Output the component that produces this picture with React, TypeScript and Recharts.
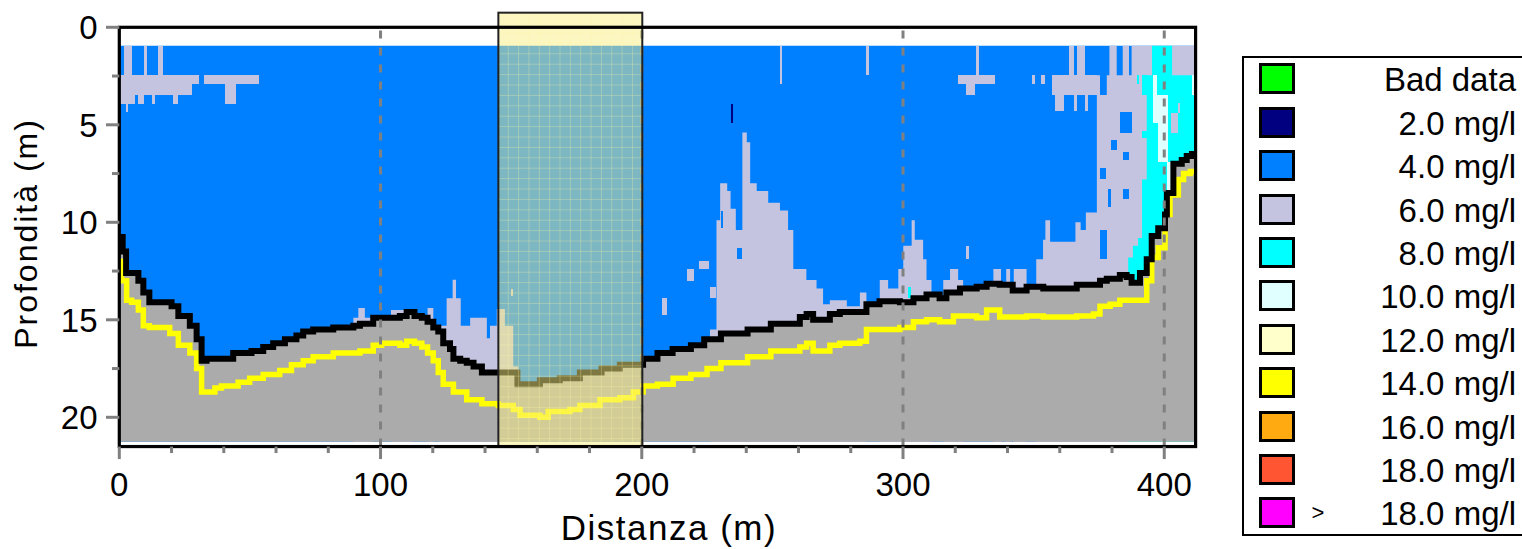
import React from "react";
import {
  ComposedChart,
  Area,
  Line,
  XAxis,
  YAxis,
  ReferenceArea,
  ReferenceLine,
} from "recharts";

const FONT = '"Liberation Sans", Arial, sans-serif';

// plot geometry (page px)
const PLOT_LEFT = 119.3;
const PLOT_TOP = 27.3;
const PLOT_RIGHT = 1195.6;
const PLOT_BOTTOM = 446.55;

const X_MAX = 412;
const Y_MAX = 21.5;
const SURFACE = 0.95;
const F = 21.25; // fondo dei dati

const xTicks = [0, 20, 40, 60, 80, 100, 120, 140, 160, 180, 200, 220, 240, 260, 280, 300, 320, 340, 360, 380, 400];
const yTicks = [0, 2.5, 5, 7.5, 10, 12.5, 15, 17.5, 20];
const xGridLines = [100, 200, 300, 400];

// fondale (linea nera) [distanza, profondità]
const blackLine: [number, number][] = [
  [0, 10.75], [1.3, 11.5], [2.6, 12.6], [7.3, 13.0], [9.2, 13.6], [11.5, 14.1], [20.0, 14.3],
  [22.6, 14.8], [27.0, 15.3], [29.6, 16.0], [31.5, 17.1], [33.4, 17.0], [43.6, 16.7], [50.6, 16.6],
  [55.1, 16.4], [58.9, 16.2], [63.4, 16.0], [67.8, 15.8], [70.4, 15.6], [74.2, 15.5], [81.9, 15.4],
  [89.6, 15.3], [92.1, 15.2], [97.2, 14.9], [107.4, 14.8], [110, 14.6], [113, 14.8], [115.8, 14.9],
  [118, 15.1], [120.2, 15.4], [122.1, 15.6], [124, 16.2], [126.6, 16.5], [127.9, 17.0], [130.5, 17.1],
  [133, 17.2], [135.6, 17.4], [138.8, 17.7], [152.4, 18.3], [161, 18.1], [168.6, 18.0], [176.3, 17.7],
  [184.6, 17.5], [191.6, 17.3], [200.5, 17.0], [206, 16.7], [211.8, 16.5], [218.8, 16.3], [223.9, 16.0],
  [230.3, 15.7], [240.5, 15.5], [249.4, 15.2], [260.5, 14.85], [263.1, 14.7], [265.6, 15.0], [272, 14.7],
  [275.8, 14.6], [286, 14.2], [291, 14.05], [298.8, 14.1], [304, 13.9], [309, 13.7], [314, 13.9],
  [316.6, 13.6], [321.8, 13.4], [328.2, 13.3], [332, 13.15], [337, 13.2], [342, 13.5], [347.3, 13.3],
  [353.7, 13.4], [366.5, 13.2], [375.4, 13.0], [378, 12.9], [383, 12.7], [385.6, 12.8], [387.5, 13.1],
  [390.7, 12.6], [393.3, 11.9], [395.2, 10.7], [397.7, 10.3], [400.3, 9.6], [401, 8.5], [403.5, 7.0],
  [406.7, 6.8], [408.6, 6.6], [410.6, 6.5], [412, 6.5],
];

// seconda riflessione (linea gialla)
const yellowLine: [number, number][] = [
  [0.5, 12.0], [0.9, 13.0], [2.8, 14.0], [4.7, 14.1], [7.3, 14.5], [9.2, 15.3], [11.5, 15.4],
  [19.3, 15.7], [22.6, 16.3], [27, 16.7], [29.6, 17.5], [31.5, 18.7], [36.6, 18.5], [39.1, 18.4],
  [45.5, 18.2], [49.9, 18.0], [55.1, 17.8], [61.4, 17.6], [65.9, 17.3], [70.4, 17.1], [74.2, 16.9],
  [81.9, 16.7], [92.1, 16.6], [97.2, 16.3], [100.4, 16.2], [107.4, 16.3], [110, 16.1], [113, 16.2],
  [115.8, 16.4], [118, 16.7], [120.2, 17.1], [122.1, 17.7], [124, 18.3], [127.9, 18.7], [133, 19.1],
  [138.8, 19.3], [145.1, 19.4], [150.8, 19.6], [153.4, 19.9], [161, 20.0], [164.2, 19.7], [172.5, 19.6],
  [176.3, 19.4], [184, 19.1], [191.6, 19.0], [196.8, 18.7], [200.5, 18.4], [206, 18.3], [212, 18.0],
  [218.8, 17.8], [225, 17.5], [230.3, 17.2], [240.5, 16.9], [249.4, 16.6], [260.5, 16.4], [263.1, 16.2],
  [265.6, 16.6], [272, 16.3], [275.8, 16.2], [283.5, 16.1], [286, 15.5], [298.8, 15.4], [304, 15.1],
  [309, 15.0], [314, 15.1], [319.3, 14.8], [328.2, 14.9], [332, 14.5], [337, 14.85], [347.3, 14.8],
  [353.7, 14.85], [366.5, 14.8], [372.9, 14.7], [375.4, 14.3], [379.3, 14.2], [383, 14.0], [393.3, 13.0],
  [395.2, 11.8], [397.7, 11.3], [400.3, 9.6], [402.2, 8.6], [405.4, 7.8], [407.4, 7.5], [410, 7.4], [412, 7.4],
];

// 6.0 mg/l, limite superiore delle zone che scendono fino al fondo
const lavenderTop: [number, number][] = [
  [0, F], [89.6, 14.9], [91.5, 14.4], [94, 14.9], [97.2, F], [104, 14.5], [112, F], [118, 14.4],
  [120.2, F], [122.5, 15.3], [125.3, 13.9], [127.6, 12.95], [128.9, 13.9], [130.7, 15.3], [134.3, 14.9],
  [140.7, 15.95], [141.9, 15.3], [144.5, 14.45], [147.6, 15.3], [150.8, 17.4], [152.7, F],
  [226.1, 15.5], [228.6, 9.9], [230, 8.0], [232.7, 8.4], [234, 9.3], [236, 10.4], [238.5, 5.4],
  [240.2, 5.9], [241.5, 8.0], [244, 8.4], [248.4, 9.0], [252.9, 9.4], [256, 10.4], [258, 12.4],
  [263, 12.96], [266.9, 13.4], [269.4, 14.2], [272, 14.0], [278.5, 14.3], [283.5, 13.6], [286, F],
  [291.1, 12.96], [294.3, 13.4], [298.2, 12.4], [300.1, 11.2], [303.3, 9.9], [304.5, 10.9], [307.7, 11.9],
  [309, 12.96], [310.9, F], [315.4, 12.96], [318, 12.4], [321.1, 12.96], [323, F], [334.6, 12.4],
  [337.5, F], [339.5, 12.4], [341, F], [342.4, 12.4], [347.3, F], [351, 11.9], [353.6, 10.9],
  [354.5, 9.9], [356.3, 11.0], [366, 10.0], [368, 10.4], [370, 9.5], [374.2, 2.46], [375.4, 3.47],
  [378, 2.46], [379, 0.95], [381.8, 2.46], [384.1, 0.95], [386.5, 2.46], [387.5, 0.95], [412, 0.95],
];

// 8.0 mg/l
const cyanTop: [number, number][] = [
  [0, F], [386.2, 11.8], [388, 11.2], [390, 10.8], [391.5, 7.8], [393.3, 2.46], [395.3, 0.95],
  [403, 2.46], [412, 2.46],
];

// celle isolate [x1, x2, prof1, prof2]
const lavenderCells: [number, number, number, number][] = [
  [0, 30.6, 2.46, 2.91], [0, 28, 2.91, 3.45], [1.8, 4.7, 0.95, 2.46], [9.5, 10.5, 0.95, 2.46],
  [14.9, 16.8, 0.95, 2.46], [32.4, 53.5, 2.46, 2.91], [40.5, 44.7, 2.91, 3.91], [0, 6.0, 3.45, 3.91],
  [7.3, 9.5, 3.45, 3.91], [12.4, 13.7, 3.45, 3.91], [20.4, 22.3, 3.45, 3.91], [2.6, 3.5, 3.91, 4.35],
  [150, 150.8, 13.4, 13.8], [207.6, 209.8, 13.86, 14.75], [217.4, 220, 12.4, 13.0],
  [221.9, 225.7, 12.0, 12.4], [226.1, 228.4, 13.3, 13.9], [252.9, 253.5, 0.95, 2.9],
  [286, 286.8, 0.95, 2.46], [321.1, 335.2, 2.46, 2.91], [324.3, 327.5, 2.91, 3.45],
  [328.1, 329.2, 0.95, 2.46], [349.2, 350.5, 2.46, 2.91], [353, 354.3, 2.46, 2.91],
  [356.9, 374.2, 2.46, 3.47], [358.3, 361.5, 3.47, 4.3], [365.3, 366.5, 3.47, 4.3],
  [369.7, 371, 3.47, 4.3], [363.4, 365.3, 0.95, 2.46], [366.5, 369.7, 0.95, 2.46],
  [324.3, 325.3, 11.2, 11.9],
];
const blueCells: [number, number, number, number][] = [
  [383.1, 387.6, 4.35, 5.4], [379.6, 381.8, 5.8, 6.3], [384.4, 386.5, 6.4, 6.8], [384.4, 386.5, 8.3, 8.8],
  [375.4, 377.7, 7.2, 7.8], [378.6, 379.5, 8.3, 9.2], [375.4, 378, 10.4, 11.9], [236.4, 238.5, 11.3, 11.9],
  [230.2, 231.0, 9.4, 10.3],
];
const navyCells: [number, number, number, number][] = [[234.1, 235.0, 3.95, 4.9]];
const cyanCells: [number, number, number, number][] = [
  [391.5, 393.3, 2.46, 3.47], [391.5, 393.3, 5.3, 5.7], [302, 303.2, 13.3, 13.9], [389.5, 390.5, 2.46, 2.9],
];
const lightCyanCells: [number, number, number, number][] = [
  [395.6, 397.4, 2.46, 3.47], [395.6, 401.6, 3.47, 4.9], [397.7, 401.6, 4.9, 6.9],
  [400.9, 403.5, 6.9, 8.4], [410.6, 411.9, 2.46, 3.47],
];
const lavenderOverCyan: [number, number, number, number][] = [
  [402.6, 405.2, 4.4, 5.4], [405.4, 406.2, 3.9, 4.4],
];

// zona evidenziata
const boxRange = { x1: 145.1, x2: 200.2, y1: -0.75, y2: 21.5 };

const legendLabels = ["Bad data", "2.0 mg/l", "4.0 mg/l", "6.0 mg/l", "8.0 mg/l", "10.0 mg/l", "12.0 mg/l", "14.0 mg/l", "16.0 mg/l", "18.0 mg/l", "18.0 mg/l"];
const legendColors = ["#00FF00", "#000080", "#0080FF", "#C4C4E0", "#00FFFF", "#E0FFFF", "#FFFFCC", "#FFFF00", "#FFAA11", "#FF5533", "#FF00FF"];

const C_BLUE = "#0080FF";
const C_LAV = "#C4C4E0";
const C_CYAN = "#00FFFF";
const C_LCYAN = "#E0FFFF";
const C_GRAY = "#ABABAB";

const bandData = [
  { x: 0, v: [SURFACE, F] },
  { x: X_MAX, v: [SURFACE, F] },
];
const lavenderData = lavenderTop.map(([x, d]) => ({ x, v: [d, F] }));
const cyanData = cyanTop.map(([x, d]) => ({ x, v: [d, F] }));
const grayData = blackLine.map(([x, d]) => ({ x, v: [d, F] }));
const blackData = blackLine.map(([x, d]) => ({ x, d }));
const yellowData = yellowLine.map(([x, d]) => ({ x, d }));

const XTick = (props: any) => {
  const { x, payload } = props;
  const v = payload.value;
  const major = v % 100 === 0;
  return (
    <g>
      <line x1={x} x2={x} y1={PLOT_BOTTOM} y2={PLOT_BOTTOM + (major ? 12.5 : 6.5)} stroke="#808080" strokeWidth={3} />
      {major && (
        <text x={x} y={495.5} textAnchor="middle" fontFamily={FONT} fontSize={33} fill="#000">
          {v}
        </text>
      )}
    </g>
  );
};

const YTick = (props: any) => {
  const { y, payload } = props;
  const v = payload.value;
  const major = v % 5 === 0;
  return (
    <g>
      <line x1={major ? 106 : 112} x2={PLOT_LEFT} y1={y} y2={y} stroke="#808080" strokeWidth={3} />
      {major && (
        <text x={97.5} y={y + 12} textAnchor="end" fontFamily={FONT} fontSize={33} fill="#000">
          {v}
        </text>
      )}
    </g>
  );
};

const xTitle = () => (
  <text x={669} y={540} textAnchor="middle" fontFamily={FONT} fontSize={35} letterSpacing={1.5} fill="#000">
    Distanza (m)
  </text>
);

const yTitle = () => (
  <text
    x={36.7}
    y={233.5}
    transform="rotate(-90 36.7 233.5)"
    textAnchor="middle"
    fontFamily={FONT}
    fontSize={32}
    letterSpacing={2}
    fill="#000"
  >
    Profondità (m)
  </text>
);

const BoxShape = (props: any) => {
  const { x, y, width, height } = props;
  return (
    <g>
      <defs>
        <pattern id="boxGrid" x={x} y={y} width={10.35} height={10.4} patternUnits="userSpaceOnUse">
          <path d="M 10.35 0 V 10.4 M 0 10.4 H 10.35" stroke="#FFF7A0" strokeWidth={1} fill="none" />
        </pattern>
      </defs>
      <rect x={x} y={y} width={width} height={height} fill="rgb(249,237,131)" fillOpacity={0.5} />
      <rect x={x} y={y} width={width} height={height} fill="url(#boxGrid)" fillOpacity={0.55} />
      <rect x={x} y={y} width={width} height={height} fill="none" stroke="#222" strokeWidth={2} />
    </g>
  );
};

const FrameShape = (props: any) => {
  const { x, y, width, height } = props;
  return <rect x={x} y={y} width={width} height={height} fill="none" stroke="#000" strokeWidth={3.2} />;
};

function cells(list: [number, number, number, number][], color: string, z: number, key: string) {
  return list.map(([x1, x2, d1, d2], i) => (
    <ReferenceArea
      key={key + i}
      x1={x1}
      x2={x2}
      y1={d1}
      y2={d2}
      fill={color}
      fillOpacity={1}
      stroke="none"
      ifOverflow="visible"
      shapeRendering="crispEdges"
      zIndex={z}
    />
  ));
}

export default function App() {
  return (
    <div
      style={{
        position: "absolute",
        left: 0,
        top: 0,
        width: 1522,
        height: 549,
        overflow: "hidden",
        background: "#fff",
        fontFamily: FONT,
      }}
    >
      <ComposedChart
        width={1522}
        height={549}
        margin={{ top: PLOT_TOP, left: PLOT_LEFT - 60, right: 1522 - PLOT_RIGHT, bottom: 549 - PLOT_BOTTOM - 60 }}
      >
        <XAxis
          dataKey="x"
          type="number"
          domain={[0, X_MAX]}
          ticks={xTicks}
          interval={0}
          height={60}
          axisLine={false}
          tickLine={false}
          tick={<XTick />}
          label={xTitle}
          allowDataOverflow
        />
        <YAxis
          type="number"
          domain={[0, Y_MAX]}
          reversed
          ticks={yTicks}
          interval={0}
          width={60}
          axisLine={false}
          tickLine={false}
          tick={<YTick />}
          label={yTitle}
          allowDataOverflow
        />

        <Area data={bandData} dataKey="v" type="linear" fill={C_BLUE} fillOpacity={1} stroke="none" isAnimationActive={false} zIndex={101} />
        <Area data={lavenderData} dataKey="v" type="stepAfter" fill={C_LAV} fillOpacity={1} stroke="none" isAnimationActive={false} zIndex={102} />
        {cells(lavenderCells, C_LAV, 103, "lav")}
        {cells(blueCells, C_BLUE, 104, "blu")}
        {cells(navyCells, "#000080", 105, "nav")}
        <Area data={cyanData} dataKey="v" type="stepAfter" fill={C_CYAN} fillOpacity={1} stroke="none" isAnimationActive={false} zIndex={106} />
        {cells(cyanCells, C_CYAN, 107, "cy")}
        {cells(lightCyanCells, C_LCYAN, 108, "lcy")}
        {cells(lavenderOverCyan, C_LAV, 109, "lav2")}
        <Area data={grayData} dataKey="v" type="stepAfter" fill={C_GRAY} fillOpacity={1} stroke="none" isAnimationActive={false} zIndex={110} />
        <Line data={yellowData} dataKey="d" type="stepAfter" stroke="#FFFF00" strokeWidth={5.5} dot={false} activeDot={false} isAnimationActive={false} zIndex={111} />
        <Line data={blackData} dataKey="d" type="stepAfter" stroke="#000" strokeWidth={6} dot={false} activeDot={false} isAnimationActive={false} zIndex={112} />

        {xGridLines.map((gx) => (
          <ReferenceLine key={gx} x={gx} stroke="#808080" strokeWidth={3} strokeDasharray="8 9" zIndex={113} />
        ))}

        <ReferenceArea {...boxRange} ifOverflow="visible" shape={<BoxShape />} zIndex={114} />
        <ReferenceArea x1={0} x2={X_MAX} y1={0} y2={Y_MAX} ifOverflow="visible" shape={<FrameShape />} zIndex={115} />
      </ComposedChart>

      <div
        style={{
          position: "absolute",
          left: 1241.7,
          top: 55.7,
          width: 300,
          height: 480.3,
          border: "2px solid #000",
          boxSizing: "border-box",
          background: "#fff",
        }}
      />
      {legendLabels.map((label, i) => {
        const top = 63.3 + i * 43.4;
        return (
          <React.Fragment key={i}>
            <div
              style={{
                position: "absolute",
                left: 1259.3,
                top,
                width: 36,
                height: 31,
                border: "3px solid #000",
                boxSizing: "border-box",
                background: legendColors[i],
              }}
            />
            {i === legendLabels.length - 1 && (
              <div
                style={{
                  position: "absolute",
                  left: 1308,
                  top,
                  width: 20,
                  height: 31,
                  lineHeight: "31px",
                  fontSize: 22,
                  textAlign: "center",
                  color: "#000",
                }}
              >
                &gt;
              </div>
            )}
            <div
              style={{
                position: "absolute",
                right: 1522 - 1516,
                top: top + 1,
                height: 31,
                lineHeight: "31px",
                fontSize: 33,
                whiteSpace: "nowrap",
                color: "#000",
              }}
            >
              {label}
            </div>
          </React.Fragment>
        );
      })}
    </div>
  );
}
